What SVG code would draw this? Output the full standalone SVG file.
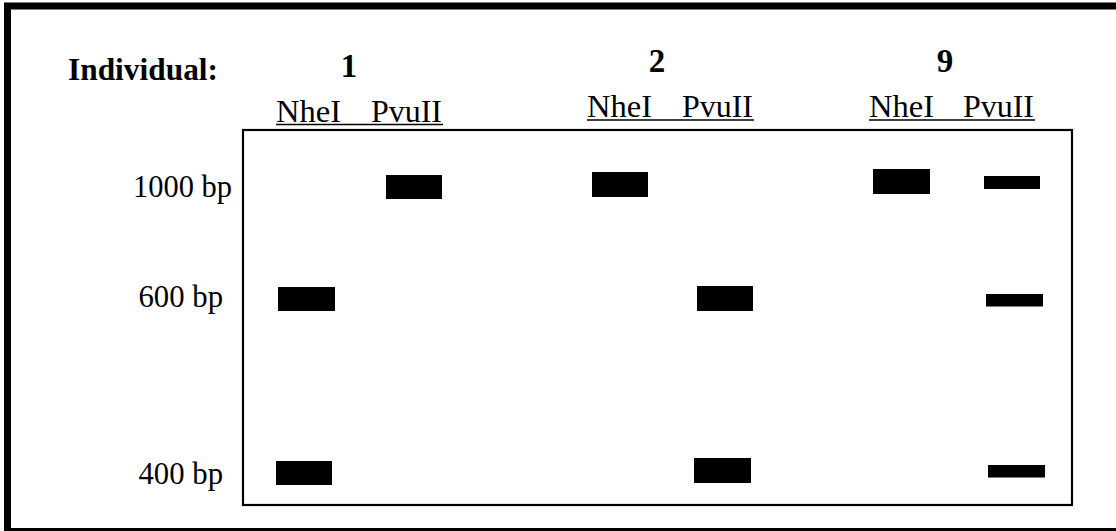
<svg xmlns="http://www.w3.org/2000/svg" width="1116" height="531" viewBox="0 0 1116 531">
<style>
.t{font-family:"Liberation Serif","Times New Roman",serif;font-size:31px;fill:#000}
.b{font-weight:bold}
.n{font-size:33px}
.band{fill:#000}
.ul{stroke:#000;stroke-width:1.6}
</style>
<rect width="1116" height="531" fill="#fff"/>
<g id="frame">
<path d="M1116 6 H7.5 V531.5 H1116" fill="none" stroke="#000" stroke-width="7"/>
</g>
<g id="gel">
<rect x="243" y="130" width="829" height="375" fill="none" stroke="#000" stroke-width="2.2"/>
</g>
<g id="header">
<text class="t b" x="68" y="80" textLength="150" lengthAdjust="spacingAndGlyphs">Individual:</text>
<text class="t b n" x="349" y="77" text-anchor="middle">1</text>
<text class="t b n" x="657" y="72" text-anchor="middle">2</text>
<text class="t b n" x="945" y="72" text-anchor="middle">9</text>
</g>
<g id="lane-labels-1">
<text class="t" x="276" y="121.7" textLength="65" lengthAdjust="spacingAndGlyphs">NheI</text>
<text class="t" x="371" y="121.7" textLength="71" lengthAdjust="spacingAndGlyphs">PvuII</text>
<line class="ul" x1="276" y1="124.5" x2="443" y2="124.5"/>
</g>
<g id="lane-labels-2">
<text class="t" x="587" y="116.5" textLength="65" lengthAdjust="spacingAndGlyphs">NheI</text>
<text class="t" x="682" y="116.5" textLength="71" lengthAdjust="spacingAndGlyphs">PvuII</text>
<line class="ul" x1="587" y1="120" x2="754" y2="120"/>
</g>
<g id="lane-labels-9">
<text class="t" x="869" y="116.5" textLength="65" lengthAdjust="spacingAndGlyphs">NheI</text>
<text class="t" x="963" y="116.5" textLength="71" lengthAdjust="spacingAndGlyphs">PvuII</text>
<line class="ul" x1="869" y1="120" x2="1035" y2="120"/>
</g>
<g id="size-markers">
<text class="t" x="133" y="197" textLength="99" lengthAdjust="spacingAndGlyphs">1000 bp</text>
<text class="t" x="138.5" y="307.3" textLength="84.5" lengthAdjust="spacingAndGlyphs">600 bp</text>
<text class="t" x="138.5" y="483.5" textLength="84.5" lengthAdjust="spacingAndGlyphs">400 bp</text>
</g>
<g id="bands-1">
<rect class="band" x="386" y="175" width="56" height="24"/>
<rect class="band" x="278" y="287" width="57" height="24"/>
<rect class="band" x="276" y="461" width="56" height="24"/>
</g>
<g id="bands-2">
<rect class="band" x="592" y="172" width="56" height="25"/>
<rect class="band" x="697" y="286" width="56" height="25"/>
<rect class="band" x="694" y="458" width="57" height="25"/>
</g>
<g id="bands-9">
<rect class="band" x="873" y="169" width="57" height="25"/>
<rect class="band" x="984" y="176" width="56" height="13"/>
<rect class="band" x="986" y="294" width="57" height="12.5"/>
<rect class="band" x="988" y="465" width="57" height="12.5"/>
</g>
</svg>
